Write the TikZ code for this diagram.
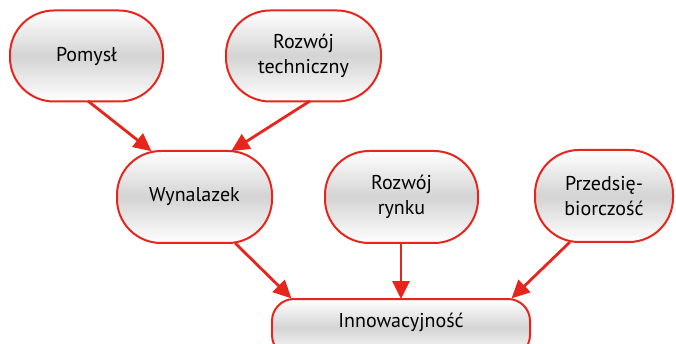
\documentclass[tikz,border=0pt]{standalone}
\usepackage{fontspec}
\setmainfont{PT Sans}
\usetikzlibrary{arrows.meta}
\definecolor{boxred}{HTML}{E8251C}
\tikzset{
  pill/.style={draw=boxred, line width=2pt, rounded corners=#1,
    top color=white, bottom color=white, middle color=black!17,
    align=center, inner sep=0pt, font=\fontsize{20}{24.5}\selectfont},
  pill/.default=44pt,
  link/.style={draw=boxred, line width=2.8pt,
    -{Triangle[length=18pt,width=17pt]}, shorten >=-2pt},
}
\begin{document}
\begin{tikzpicture}[x=1pt,y=-1pt]
\useasboundingbox (0,0) rectangle (676,344);
\clip (0,0) rectangle (676,344);
% upper row
\node[pill, minimum width=153pt, minimum height=91pt] (pomysl) at (86.5,56) {Pomysł};
\node[pill, minimum width=155pt, minimum height=91pt] (techn) at (303.5,56) {Rozwój\\techniczny};
% middle row
\node[pill, minimum width=155pt, minimum height=92pt] (wyn) at (194.5,197) {Wynalazek};
\node[pill, minimum width=153pt, minimum height=92pt] (rynek) at (401.5,197) {Rozwój\\rynku};
\node[pill, minimum width=138pt, minimum height=92pt] (przed) at (604,196) {Przedsię-\\biorczość};
% bottom box, running past the lower edge
\node[pill=22pt, minimum width=258pt, minimum height=58pt, anchor=north] (inno) at (401,298) {};
\node[font=\fontsize{20}{24.5}\selectfont] (innotxt) at (401,322) {Innowacyjność};
% arrow end points
\coordinate (a1) at (88,101);  \coordinate (b1) at (150,150);
\coordinate (a2) at (310,101); \coordinate (b2) at (233,150);
\coordinate (a3) at (235,243); \coordinate (b3) at (290,297);
\coordinate (a4) at (401,243); \coordinate (b4) at (401,297);
\coordinate (a5) at (570,242); \coordinate (b5) at (513,297);
\draw[link] (a1) -- (b1);
\draw[link] (a2) -- (b2);
\draw[link] (a3) -- (b3);
\draw[link] (a4) -- (b4);
\draw[link] (a5) -- (b5);
\end{tikzpicture}
\end{document}
